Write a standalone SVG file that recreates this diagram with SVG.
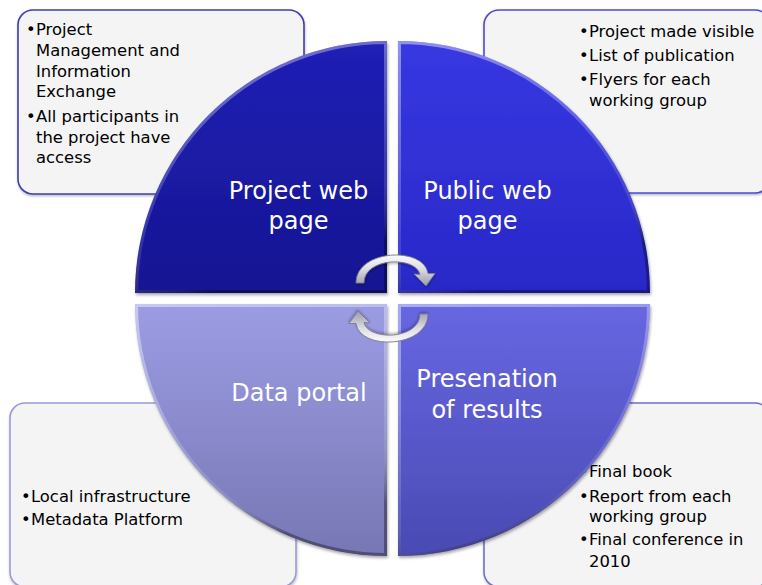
<svg xmlns="http://www.w3.org/2000/svg" width="762" height="585" viewBox="0 0 762 585">
  <defs>
    <style>
      .box { fill: #f4f4f4; stroke-width: 1.6; }
      .note { font-family: "DejaVu Sans", Verdana, sans-serif; font-size: 16.4px; fill: #000; }
      .label { font-family: "DejaVu Sans", Verdana, sans-serif; font-size: 24px; fill: #fff; text-anchor: middle; }
      .bevel { fill: none; stroke: url(#bevel); stroke-width: 6; }
      .arrow { fill: url(#arrowFill); stroke: #7a7a8c; stroke-width: 0.9; stroke-linejoin: round; }
    </style>
    <filter id="shadow" x="-10%" y="-10%" width="120%" height="125%">
      <feDropShadow dx="1" dy="2" stdDeviation="1.6" flood-color="#000" flood-opacity="0.35"/>
    </filter>
    <filter id="softShadow" x="-10%" y="-10%" width="120%" height="125%">
      <feDropShadow dx="0.5" dy="1.5" stdDeviation="1.2" flood-color="#000" flood-opacity="0.28"/>
    </filter>
    <linearGradient id="gTL" x1="0" y1="0" x2="0" y2="1">
      <stop offset="0" stop-color="#2020b6"/>
      <stop offset="1" stop-color="#151592"/>
    </linearGradient>
    <linearGradient id="gTR" x1="0" y1="0" x2="0" y2="1">
      <stop offset="0" stop-color="#3838e2"/>
      <stop offset="1" stop-color="#2828c8"/>
    </linearGradient>
    <linearGradient id="gBR" x1="0" y1="0" x2="0" y2="1">
      <stop offset="0" stop-color="#6767e3"/>
      <stop offset="1" stop-color="#4a4ab3"/>
    </linearGradient>
    <linearGradient id="gBL" x1="0" y1="0" x2="0" y2="1">
      <stop offset="0" stop-color="#9c9ce4"/>
      <stop offset="1" stop-color="#7777b4"/>
    </linearGradient>
    <linearGradient id="bevel" x1="0" y1="0" x2="0.3" y2="1">
      <stop offset="0" stop-color="#fff" stop-opacity="0.45"/>
      <stop offset="0.75" stop-color="#fff" stop-opacity="0.12"/>
      <stop offset="1" stop-color="#000" stop-opacity="0.35"/>
    </linearGradient>
    <linearGradient id="arrowFill" x1="0" y1="0" x2="0" y2="1">
      <stop offset="0" stop-color="#fbfbfd"/>
      <stop offset="0.45" stop-color="#dcdce4"/>
      <stop offset="1" stop-color="#9a9aaa"/>
    </linearGradient>
    <path id="qTL" d="M387 293 L135 293 A252 252 0 0 1 387 41 Z"/>
    <path id="qTR" d="M398 293 L398 41 A252 252 0 0 1 650 293 Z"/>
    <path id="qBR" d="M398 304 L650 304 A252 252 0 0 1 398 556 Z"/>
    <path id="qBL" d="M387 304 L387 556 A252 252 0 0 1 135 304 Z"/>
    <clipPath id="cTL"><use href="#qTL"/></clipPath>
    <clipPath id="cTR"><use href="#qTR"/></clipPath>
    <clipPath id="cBR"><use href="#qBR"/></clipPath>
    <clipPath id="cBL"><use href="#qBL"/></clipPath>
    <!-- curved arrow: band over the top, head pointing down on the right -->
    <path id="cycleArrow" d="M356 283 C356 249 424 246 428 273.5 L435 273.5 L426 286 L414 274 L420 274.5 C416 256 364 257 364 283 Z"/>
  </defs>

  <rect width="762" height="585" fill="#fff"/>

  <!-- note boxes sit beneath the circle -->
  <g id="note-project">
    <rect class="box" x="18" y="10" width="286" height="184" rx="15" stroke="#3c3cb8" filter="url(#softShadow)"/>
    <text class="note">
      <tspan x="26" y="35">•</tspan><tspan x="36" y="35">Project</tspan>
      <tspan x="36" y="56">Management and</tspan>
      <tspan x="36" y="77">Information</tspan>
      <tspan x="36" y="97">Exchange</tspan>
      <tspan x="26" y="122">•</tspan><tspan x="36" y="122">All participants in</tspan>
      <tspan x="36" y="143">the project have</tspan>
      <tspan x="36" y="163">access</tspan>
    </text>
  </g>
  <g id="note-public">
    <rect class="box" x="484" y="10" width="286" height="183" rx="15" stroke="#4a4ad6" filter="url(#softShadow)"/>
    <text class="note">
      <tspan x="579" y="37">•</tspan><tspan x="589" y="37">Project made visible</tspan>
      <tspan x="579" y="61">•</tspan><tspan x="589" y="61">List of publication</tspan>
      <tspan x="579" y="85">•</tspan><tspan x="589" y="85">Flyers for each</tspan>
      <tspan x="589" y="106">working group</tspan>
    </text>
  </g>
  <g id="note-data">
    <rect class="box" x="10" y="403" width="286" height="184" rx="15" stroke="#9a9ada" filter="url(#softShadow)"/>
    <text class="note">
      <tspan x="21" y="502">•</tspan><tspan x="31" y="502">Local infrastructure</tspan>
      <tspan x="21" y="525">•</tspan><tspan x="31" y="525">Metadata Platform</tspan>
    </text>
  </g>
  <g id="note-results">
    <rect class="box" x="484" y="403" width="286" height="184" rx="15" stroke="#7070cc" filter="url(#softShadow)"/>
    <text class="note">
      <tspan x="579" y="477">•</tspan><tspan x="589" y="477">Final book</tspan>
      <tspan x="579" y="502">•</tspan><tspan x="589" y="502">Report from each</tspan>
      <tspan x="589" y="522">working group</tspan>
      <tspan x="579" y="545">•</tspan><tspan x="589" y="545">Final conference in</tspan>
      <tspan x="589" y="567">2010</tspan>
    </text>
  </g>

  <!-- four quarter-circle segments -->
  <g id="project-web-page">
    <use href="#qTL" fill="url(#gTL)" filter="url(#shadow)"/>
    <use href="#qTL" class="bevel" clip-path="url(#cTL)"/>
    <text class="label"><tspan x="298.5" y="199">Project web</tspan><tspan x="298.5" y="229">page</tspan></text>
  </g>
  <g id="public-web-page">
    <use href="#qTR" fill="url(#gTR)" filter="url(#shadow)"/>
    <use href="#qTR" class="bevel" clip-path="url(#cTR)"/>
    <text class="label"><tspan x="487.5" y="199">Public web</tspan><tspan x="487.5" y="229">page</tspan></text>
  </g>
  <g id="presentation-of-results">
    <use href="#qBR" fill="url(#gBR)" filter="url(#shadow)"/>
    <use href="#qBR" class="bevel" clip-path="url(#cBR)"/>
    <text class="label"><tspan x="487" y="387">Presenation</tspan><tspan x="487" y="418">of results</tspan></text>
  </g>
  <g id="data-portal">
    <use href="#qBL" fill="url(#gBL)" filter="url(#shadow)"/>
    <use href="#qBL" class="bevel" clip-path="url(#cBL)"/>
    <text class="label" x="299" y="401">Data portal</text>
  </g>

  <!-- cycle arrows in the middle -->
  <g id="connectors">
    <use href="#cycleArrow" class="arrow" filter="url(#softShadow)"/>
    <use href="#cycleArrow" class="arrow" filter="url(#softShadow)" transform="rotate(180 392 298.5)"/>
  </g>
</svg>
